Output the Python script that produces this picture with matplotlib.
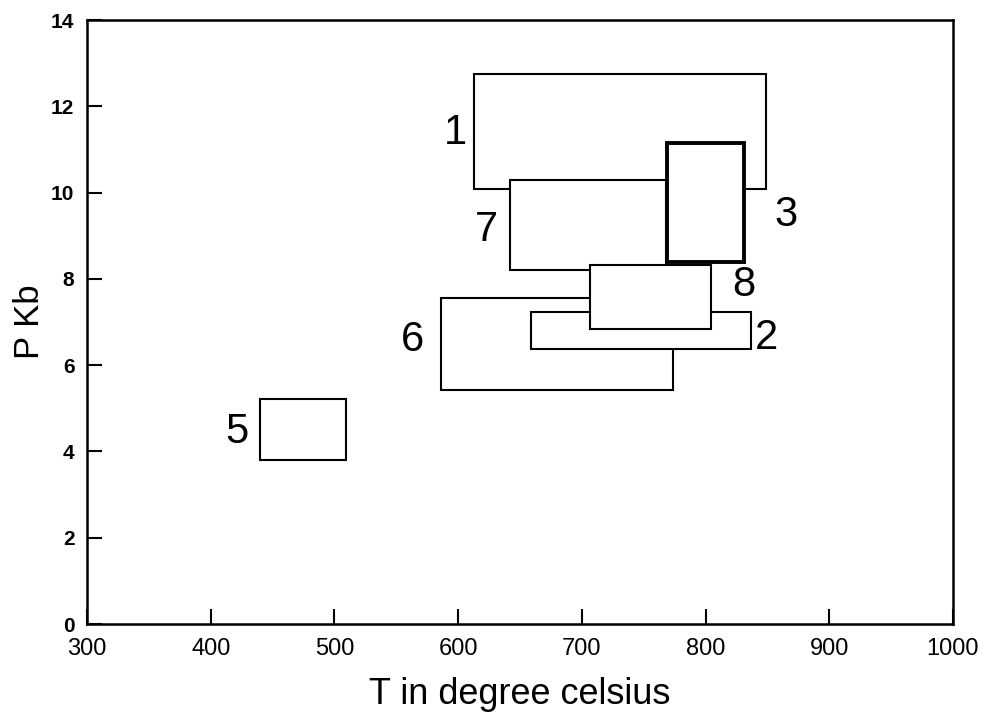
import matplotlib.pyplot as plt
from matplotlib.patches import Rectangle

plt.rcParams['font.family'] = ['Liberation Sans', 'DejaVu Sans']

# P-T boxes: label, T min, T max, P min, P max (in drawing order)
labels = ['1', '7', '3', '6', '2', '8', '5']
t_min = [613, 642, 769, 586, 659, 707, 440]
t_max = [849, 768, 831, 774, 837, 804, 509]
p_min = [10.08, 8.20, 8.39, 5.42, 6.37, 6.84, 3.79]
p_max = [12.75, 10.28, 11.14, 7.56, 7.23, 8.32, 5.22]
# label positions
lab_t = [598, 623, 865, 563, 849, 831, 421]
lab_p = [11.38, 9.13, 9.48, 6.58, 6.63, 7.86, 4.45]

fig = plt.figure(figsize=(9.85, 7.17), dpi=100)
ax = fig.add_axes([0.0883, 0.1297, 0.8792, 0.8424])

for i in range(len(labels)):
    lw = 2.8 if labels[i] == '3' else 1.5
    r = Rectangle((t_min[i], p_min[i]), t_max[i] - t_min[i], p_max[i] - p_min[i],
                  facecolor='white', edgecolor='black', linewidth=lw, zorder=2 + i)
    ax.add_patch(r)
    ax.text(lab_t[i], lab_p[i], labels[i], fontsize=30, ha='center', va='center',
            zorder=20)

ax.set_xlim(300, 1000)
ax.set_ylim(0, 14)
ax.set_xticks(range(300, 1001, 100))
ax.set_yticks(range(0, 15, 2))
ax.tick_params(direction='in', length=11, width=1.5)
ax.tick_params(axis='x', pad=10, labelsize=17)
ax.tick_params(axis='y', pad=9, labelsize=15)
for lab in ax.get_yticklabels():
    lab.set_fontweight('bold')
for s in ax.spines.values():
    s.set_linewidth(1.8)

ax.set_xlabel('T in degree celsius', fontsize=26, labelpad=12)
ax.set_ylabel('P Kb', fontsize=25, labelpad=4)

fig.savefig('out.png', dpi=100)
